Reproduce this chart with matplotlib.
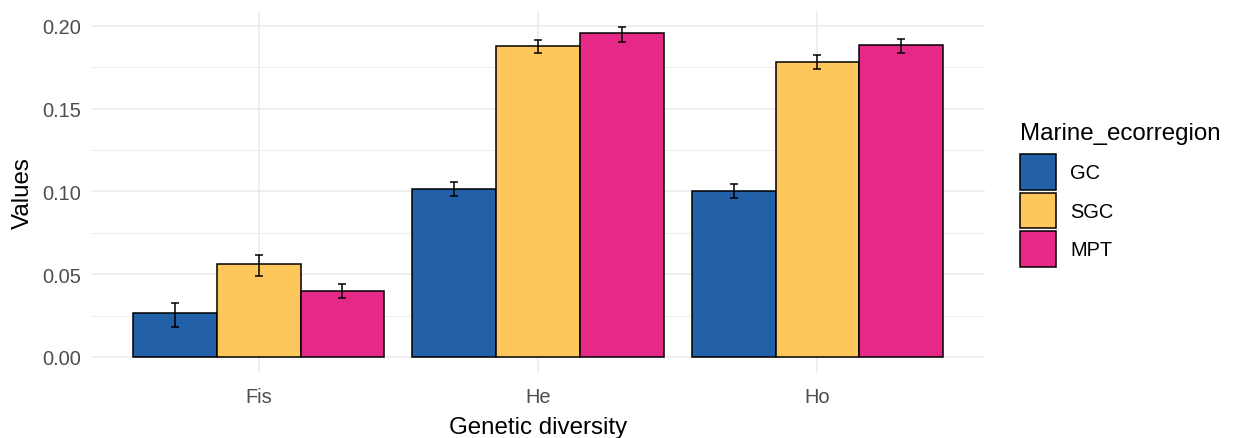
import numpy as np
import matplotlib
matplotlib.use("Agg")
from matplotlib import pyplot as plt
from matplotlib.patches import Patch
from matplotlib.ticker import MultipleLocator

plt.rcParams["font.family"] = ["Liberation Sans", "DejaVu Sans"]

# data
categories = ["Fis", "He", "Ho"]
regions = ["GC", "SGC", "MPT"]
mean_gc = [0.0268, 0.1015, 0.1005]
mean_sgc = [0.0562, 0.1877, 0.1784]
mean_mpt = [0.0399, 0.1958, 0.1887]
upper_gc = [0.0328, 0.1057, 0.1045]
upper_sgc = [0.0614, 0.1917, 0.1825]
upper_mpt = [0.0439, 0.1990, 0.1920]
lower_gc = [0.0183, 0.0973, 0.0963]
lower_sgc = [0.0489, 0.1835, 0.1742]
lower_mpt = [0.0356, 0.1905, 0.1835]

COLOURS = ["#2260A8", "#FDC75B", "#E62986"]
GRID = "#EBEBEB"
TEXT_GREY = "#4D4D4D"

means = [mean_gc, mean_sgc, mean_mpt]
uppers = [upper_gc, upper_sgc, upper_mpt]
lowers = [lower_gc, lower_sgc, lower_mpt]

fig = plt.figure(figsize=(12.36, 4.39), dpi=100)
ax = fig.add_axes([0.0736, 0.147, 0.797 - 0.0736, 0.9727 - 0.147])

x = np.arange(len(categories))
width = 0.3
for i, (m, hi, lo) in enumerate(zip(means, uppers, lowers)):
    pos = x + (i - 1) * width
    m = np.array(m)
    ax.bar(pos, m, width=width, color=COLOURS[i], edgecolor="black",
           linewidth=1.1, zorder=3)
    yerr = np.vstack([m - np.array(lo), np.array(hi) - m])
    ax.errorbar(pos, m, yerr=yerr, fmt="none", ecolor="black",
                elinewidth=1.1, capsize=3.2, capthick=1.1, zorder=4)

top = max(max(u) for u in uppers)
pad = top * 0.05
ax.set_ylim(-pad, top + pad)
ax.set_xlim(-0.6, len(categories) - 1 + 0.6)

ax.yaxis.set_minor_locator(MultipleLocator(0.025))
ax.set_yticks(np.arange(0, 0.201, 0.05))
ax.set_yticklabels([f"{v:.2f}" for v in np.arange(0, 0.201, 0.05)])
ax.set_xticks(x)
ax.set_xticklabels(categories)

ax.grid(which="major", axis="both", color=GRID, linewidth=1.1, zorder=0)
ax.grid(which="minor", axis="y", color=GRID, linewidth=0.6, zorder=0)
ax.set_axisbelow(True)
for s in ax.spines.values():
    s.set_visible(False)
ax.tick_params(which="both", length=0, labelsize=14.4, labelcolor=TEXT_GREY)
ax.tick_params(axis="x", pad=10)
ax.tick_params(axis="y", pad=7)

ax.set_xlabel("Genetic diversity", fontsize=17.4, labelpad=7)
ax.set_ylabel("Values", fontsize=17.4, labelpad=6)

handles = [Patch(facecolor=c, edgecolor="black", linewidth=1.1) for c in COLOURS]
leg = fig.legend(handles, regions, loc="upper left",
                 bbox_to_anchor=(1020 / 1236, 1 - 123 / 439),
                 frameon=False, fontsize=14.4, title="Marine_ecorregion",
                 title_fontsize=17.4, handlelength=1.8, handleheight=2.35,
                 handletextpad=0.7, labelspacing=0.15, borderpad=0,
                 borderaxespad=0, alignment="left")
# a bit more room between the legend title and the keys
leg._legend_box.sep = 7.5

fig.savefig("out.png", dpi=100, facecolor="white")
